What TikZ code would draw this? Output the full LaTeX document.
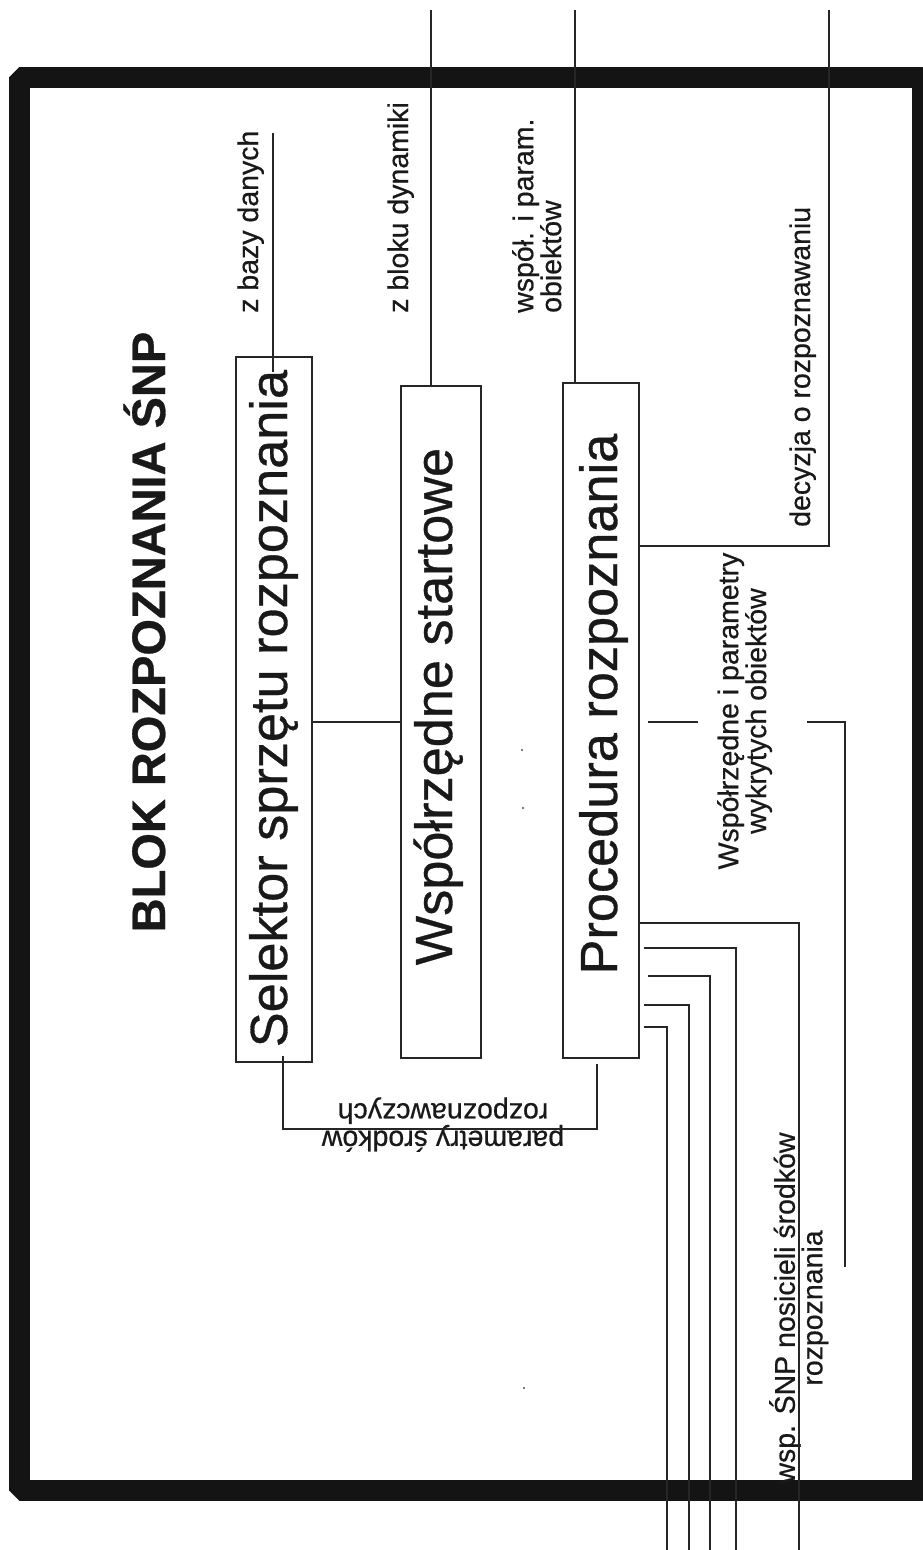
\documentclass[tikz,border=0pt]{standalone}
\usepackage{fontspec}
\setmainfont{Liberation Sans}[FakeBold=0.6]
\usetikzlibrary{calc}
\begin{document}
\begin{tikzpicture}[x=1pt,y=-1pt,
  wire/.style={line width=1.1pt, draw=black!85},
  box/.style={draw=black!85, line width=1.3pt, rectangle, inner sep=0pt},
  big/.style={rotate=90, anchor=base, inner sep=0pt, font=\fontsize{52.3}{60}\selectfont, text=black!90},
  small/.style={inner sep=0pt, font=\fontsize{28.5}{24}\selectfont, text=black!90},
  up/.style={rotate=90},
  flip/.style={rotate=180},
]
\useasboundingbox (0,0) rectangle (923,1550);
\clip (0,0) rectangle (923,1550);

% heavy outer frame of the block
\draw[line width=21pt, line join=bevel, black!92] (19.5,77.5) rectangle (922.5,1490.5);

% title
\node[up, anchor=base, inner sep=0pt, font=\bfseries\fontsize{47}{50}\selectfont, text=black!90] (title) at (165,632) {BLOK ROZPOZNANIA ŚNP};

% the three functional boxes
\node[box, minimum width=76pt, minimum height=705pt] (sel) at (274,709.5) {};
\node[box, minimum width=80pt, minimum height=672pt] (ws) at (441,722) {};
\node[box, minimum width=76pt, minimum height=675pt] (pr) at (601,720.5) {};

\node[big] (selT) at (287,708.5) {Selektor sprzętu rozpoznania};
\node[big] (wsT) at (452,706.5) {Współrzędne startowe};
\node[big] (prT) at (617,704) {Procedura rozpoznania};

% signal labels
\node[small, up, anchor=base west] (lz1) at (258,313) {z bazy danych};
\node[small, up, anchor=base west] (lz2) at (408,313) {z bloku dynamiki};
\node[small, up, anchor=north west, align=left] (lz3) at (512,313) {współ. i param.\\obiektów};
\node[small, up, anchor=base west] (lz4) at (810,527) {decyzja o rozpoznawaniu};
\node[small, up, anchor=north, align=center] (lz5) at (717,711) {Współrzędne i parametry\\wykrytych obiektów};
\node[small, up, anchor=north, align=center] (lz6) at (769,1308) {wsp. ŚNP nosicieli środków\\rozpoznania};
\node[small, flip, anchor=north, align=center] (lz7) at (443,1152) {parametry środków\\rozpoznawczych};

% inputs from above
\coordinate (dbTop) at (273,133);
\draw[wire] (dbTop) -- ([yshift=-16pt]dbTop |- sel.north);
\coordinate (dynTop) at (431,10);
\draw[wire] (dynTop) -- (dynTop |- ws.north);
\coordinate (objTop) at (575,10);
\draw[wire] (objTop) -- (objTop |- pr.north);

% decision output
\coordinate (decTop) at (829,10);
\coordinate (decBend) at (829,546);
\draw[wire] (decTop) -- (decBend) -- (decBend -| pr.east);

% selector to start coordinates
\coordinate (mid) at (0,722);
\draw[wire] (sel.east |- mid) -- (ws.west |- mid);

% parameters of reconnaissance means
\coordinate (parL) at (283,1129);
\coordinate (parR) at (597,1129);
\draw[wire] ([yshift=7pt]parL |- sel.south) -- (parL) -- (parR) -- ([yshift=-5pt]parR |- pr.south);

% detected objects output
\coordinate (wpA) at (698,722);
\coordinate (wpB) at (807,722);
\coordinate (wpC) at (845,722);
\coordinate (wpD) at (845,1267);
\draw[wire] ([xshift=8pt]pr.east |- wpA) -- (wpA);
\draw[wire] (wpB) -- (wpC) -- (wpD);

% carrier coordinate bundle
\foreach \i/\yy/\xx/\g in {1/923/799/0, 2/948/736/4, 3/976/710/8, 4/1005/689/4, 5/1027/667/4} {
  \coordinate (bend\i) at (\xx,\yy);
  \coordinate (end\i) at (\xx,1550);
  \draw[wire] ([xshift=\g pt]pr.east |- bend\i) -- (bend\i) -- (end\i);
}

% specks
\fill[black!70] (522,750) circle (1.1pt);
\fill[black!70] (523,808) circle (1.1pt);
\fill[black!70] (524,1388) circle (1.1pt);
\end{tikzpicture}
\end{document}
